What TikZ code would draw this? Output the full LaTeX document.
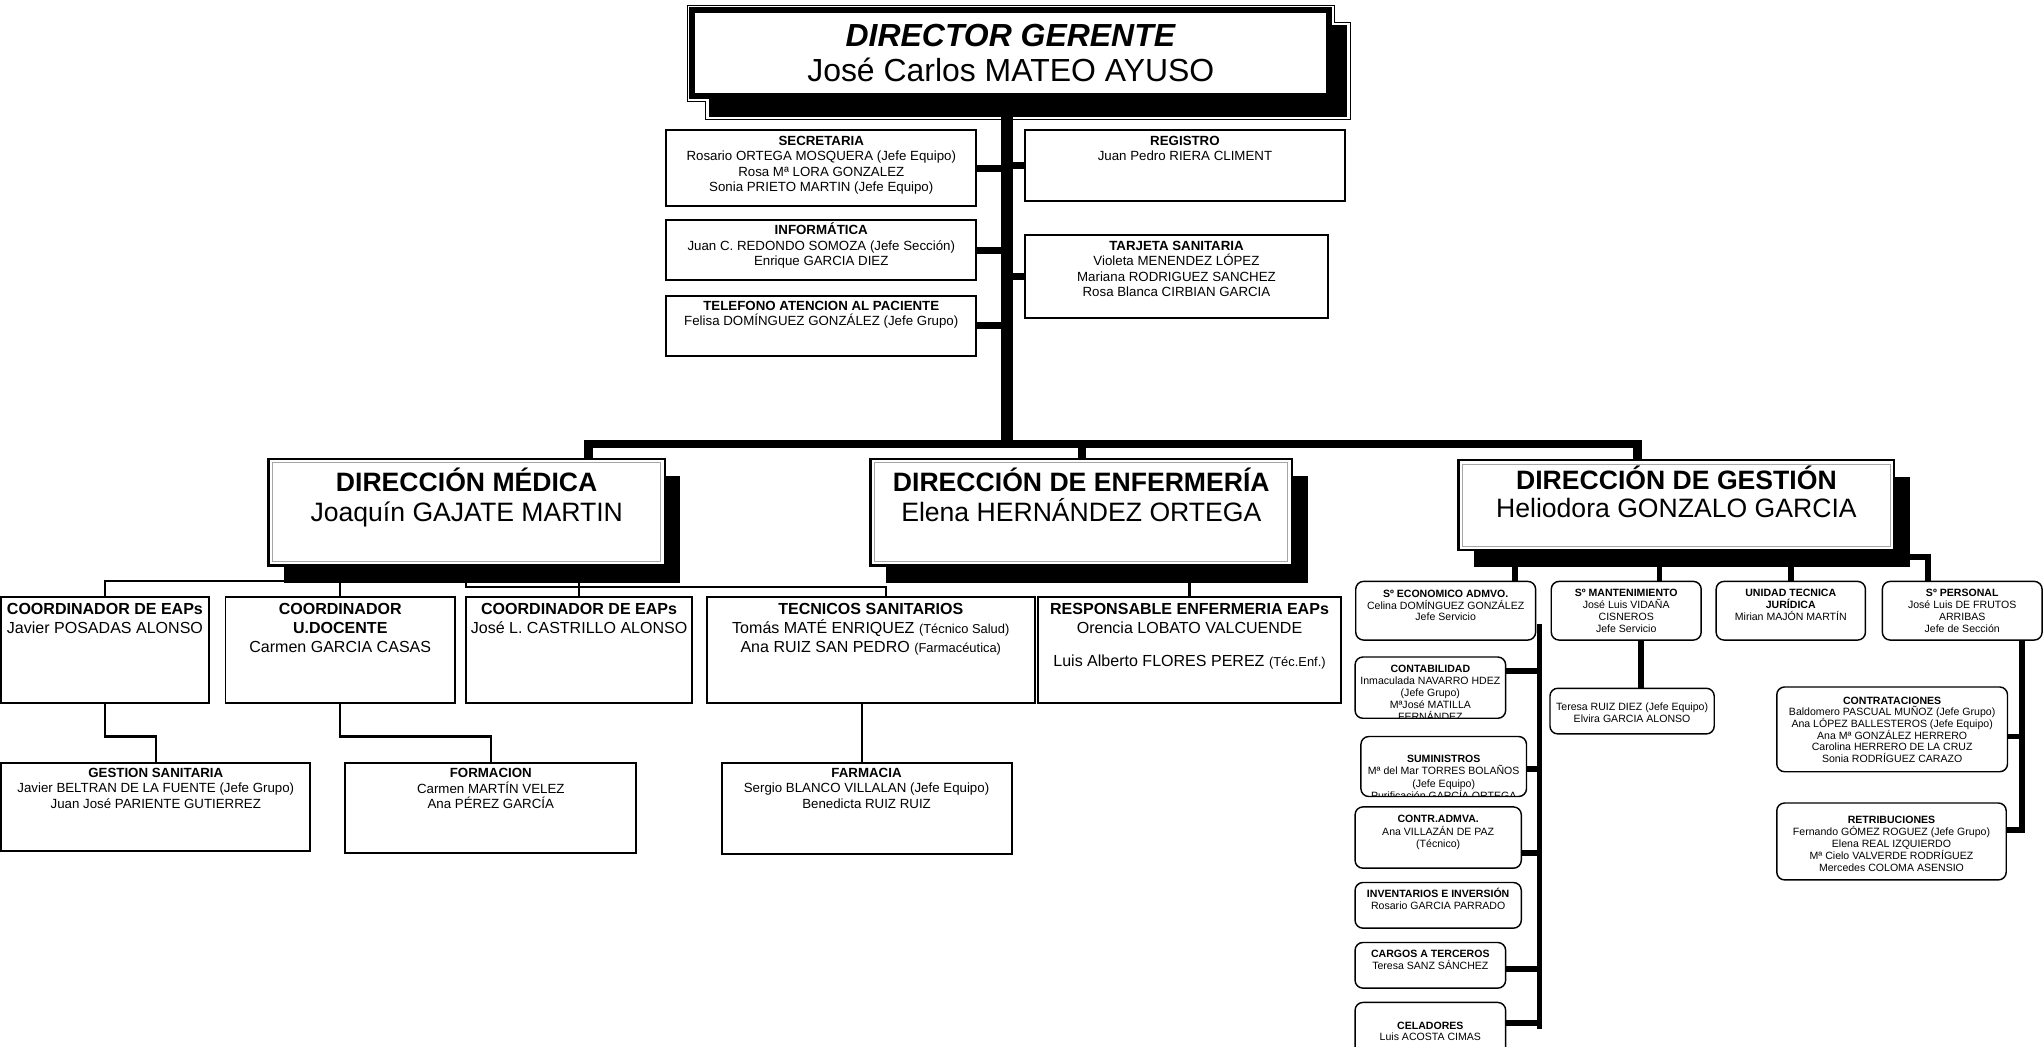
\documentclass[tikz,border=0pt]{standalone}
\usepackage{fontspec}
\setmainfont{Liberation Sans}
\usetikzlibrary{fit}
\lineskiplimit=-100pt
\tikzset{
  sbox/.style={draw, line width=1.5pt, fill=white, inner sep=0pt, outer sep=0pt},
  rbox/.style={draw, line width=1.1pt, fill=white, rounded corners=6pt, inner sep=0pt, outer sep=0pt},
  dbox/.style={draw, line width=2pt, fill=white, inner sep=0pt, outer sep=0pt},
  gbox/.style={draw, line width=4.5pt, fill=white, inner sep=0pt, outer sep=0pt},
  innerline/.style={draw=gray!70, line width=0.8pt},
  shd/.style={fill=black},
  thinl/.style={line width=1.6pt},
  lnk/.style={line width=5.5pt},
  glnk/.style={line width=4.5pt},
  barlink/.style={line width=6.5pt},
  trunk/.style={line width=9pt},
}
\newcommand\tx[6]{% name, x, yc, size, pitch, content
  \pgfmathsetmacro\tyy{#3-0.642*#4}%
  \node[anchor=north, inner sep=0pt, align=center, font={\fontsize{#4}{#5}\selectfont}] (#1) at (#2,\tyy) {\rule{0pt}{#4pt}#6};}
\newcommand\bx[6]{\node[#1, fit={(#3,#4)(#5,#6)}] (#2) {};}
\newcommand\dirbox[5]{%
  \fill[shd] (#2+12,#3+13) rectangle (#4+12,#5+13);
  \node[dbox, fit={(#2,#3)(#4,#5)}] (#1) {};
  \draw[innerline] ([shift={(3pt,-3pt)}]#1.north west) rectangle ([shift={(-3pt,3pt)}]#1.south east);}
\newcommand\sm[1]{{\fontsize{9.9}{14.7}\selectfont #1}}
\begin{document}
\begin{tikzpicture}[x=1pt,y=-1pt]
\useasboundingbox (0,0) rectangle (1568,803);

% ---------- Director gerente ----------
\fill[shd] (544,19) rectangle (1033,89.5);
\draw[line width=0.7pt] (527.5,4) -- (1023.5,4) -- (1023.5,17) -- (1036,17) -- (1036,92) -- (541,92) -- (541,77.5) -- (527.5,77.5) -- cycle;
\bx{gbox}{dg}{531}{8}{1019.7}{73.6}

% ---------- direcciones ----------
\dirbox{med}{206}{352}{510}{434}
\dirbox{enf}{668}{352}{991}{434}
\dirbox{ges}{1119}{353}{1453}{422}

% ---------- side boxes ----------
\bx{sbox}{sec}{511}{100}{749}{158}
\bx{sbox}{reg}{786}{100}{1032}{154}
\bx{sbox}{inf}{511}{169}{749}{215}
\bx{sbox}{tar}{786}{180}{1019}{244}
\bx{sbox}{tel}{511}{227}{749}{273}

% ---------- coordinators ----------
\bx{sbox}{ca}{1}{458}{160}{539}
\bx{sbox}{cb}{173}{458}{349}{539}
\bx{sbox}{cc}{357.5}{458}{531}{539}
\bx{sbox}{tec}{542}{458}{794}{539}
\bx{sbox}{res}{796}{458}{1029}{539}
\bx{sbox}{gsa}{1}{585}{238}{653}
\bx{sbox}{frm}{265}{585}{488}{654}
\bx{sbox}{far}{553.5}{585}{776}{655}

% ---------- gestion ----------
\bx{rbox}{eco}{1040}{446}{1178}{491}
\bx{rbox}{man}{1190}{446}{1305}{491}
\bx{rbox}{uni}{1316.5}{446}{1431}{491}
\bx{rbox}{per}{1444}{446}{1566.5}{491}
\bx{rbox}{ter}{1189}{528}{1315}{563}
\bx{rbox}{ctt}{1363}{527}{1540}{592}
\bx{rbox}{ret}{1363}{616}{1539}{675}
\bx{rbox}{cnt}{1039.5}{504}{1155}{551}
\bx{rbox}{sum}{1044}{565}{1171}{611}
\bx{rbox}{cad}{1039.5}{619}{1167}{666}
\bx{rbox}{inv}{1039.5}{677}{1167}{712}
\bx{rbox}{car}{1039.5}{723}{1155}{758}
\bx{rbox}{cel}{1039.5}{769}{1155}{812}

% ---------- connectors ----------
\coordinate (tb) at (772.5,344);
\draw[trunk] (dg.south -| tb) -- (tb);
\draw[lnk] (sec.east) -- (sec.east -| tb);
\draw[lnk] (reg.west) -- (reg.west -| tb);
\draw[lnk] (inf.east) -- (inf.east -| tb);
\draw[lnk] (tar.west) -- (tar.west -| tb);
\draw[lnk] (tel.east) -- (tel.east -| tb);

\coordinate (bl) at (451.5,340.5);
\coordinate (br) at (1256,340.5);
\coordinate (be) at (830,340.5);
\draw[barlink] (med.north -| bl) -- (bl) -- (br) -- (ges.north -| br);
\draw[barlink] (be) -- (enf.north -| be);

\draw[thinl] (ca.north) |- (225,446);
\draw[thinl] (cb.north) -- (cb.north |- 0,446);
\draw[thinl] (cc.north) -- (cc.north |- 0,446);
\draw[thinl] (357.5,446) |- (679.5,450.5) -- (tec.north -| 679.5,0);
\draw[thinl] (res.north) -- (res.north |- 0,446);
\draw[thinl] (ca.south) -- (ca.south |- 0,565) -| (gsa.north);
\draw[thinl] (cb.south) -- (cb.south |- 0,565) -| (frm.north);
\draw[thinl] (tec.south -| 661,0) -- (far.north -| 661,0);

\draw[glnk] (eco.north -| 1162,0) -- (1162,434);
\draw[glnk] (man.north -| 1273,0) -- (1273,434);
\draw[glnk] (uni.north -| 1374,0) -- (1374,434);
\draw[glnk] (1462,427) -| (per.north -| 1479,0);
\draw[glnk] (man.south -| 1259,0) -- (ter.north -| 1259,0);
\coordinate (ea) at (1181,479);
\coordinate (eb) at (1181,789);
\draw[glnk] (ea) -- (eb);
\draw[glnk] (cnt.east |- 0,514.5) -- (ea |- 0,514.5);
\draw[glnk] (sum.east |- 0,590) -- (ea |- 0,590);
\draw[glnk] (cad.east |- 0,654.6) -- (ea |- 0,654.6);
\draw[glnk] (car.east |- 0,743) -- (ea |- 0,743);
\draw[glnk] (cel.east |- 0,785) -- (ea |- 0,785);
\coordinate (pa) at (1551,639);
\draw[glnk] (per.south -| pa) -- (pa);
\draw[glnk] (ctt.east |- 0,565) -- (pa |- 0,565);
\draw[glnk] (ret.east |- 0,637) -- (pa |- 0,637);

% ---------- texts ----------
\tx{dgt}{775.4}{26.8}{24.5}{26.9}{\textbf{\textit{DIRECTOR GERENTE}}\\José Carlos MATEO AYUSO}
\tx{medt}{358}{369.5}{20.4}{23}{\textbf{DIRECCIÓN MÉDICA}\\Joaquín GAJATE MARTIN}
\tx{enft}{829.5}{369.5}{20.4}{23}{\textbf{DIRECCIÓN DE ENFERMERÍA}\\Elena HERNÁNDEZ ORTEGA}
\tx{gest}{1286}{368}{20.4}{21.5}{\textbf{DIRECCIÓN DE GESTIÓN}\\Heliodora GONZALO GARCIA}

\tx{sect}{630}{107.4}{10.2}{11.9}{\textbf{SECRETARIA}\\Rosario ORTEGA MOSQUERA (Jefe Equipo)\\Rosa Mª LORA GONZALEZ\\Sonia PRIETO MARTIN (Jefe Equipo)}
\tx{regt}{909}{107.4}{10.2}{11.9}{\textbf{REGISTRO}\\Juan Pedro RIERA CLIMENT}
\tx{inft}{630}{176.4}{10.2}{11.9}{\textbf{INFORMÁTICA}\\Juan C. REDONDO SOMOZA (Jefe Sección)\\Enrique GARCIA DIEZ}
\tx{tart}{902.5}{188}{10.2}{11.9}{\textbf{TARJETA SANITARIA}\\Violeta MENENDEZ LÓPEZ\\Mariana RODRIGUEZ SANCHEZ\\Rosa Blanca CIRBIAN GARCIA}
\tx{telt}{630}{234}{10.2}{11.9}{\textbf{TELEFONO ATENCION AL PACIENTE}\\Felisa DOMÍNGUEZ GONZÁLEZ (Jefe Grupo)}

\tx{cat}{80.5}{466.7}{12.3}{14.7}{\textbf{COORDINADOR DE EAPs}\\Javier POSADAS ALONSO}
\tx{cbt}{261}{466.7}{12.3}{14.7}{\textbf{COORDINADOR}\\\textbf{U.DOCENTE}\\Carmen GARCIA CASAS}
\tx{cct}{444.25}{466.7}{12.3}{14.7}{\textbf{COORDINADOR DE EAPs}\\José L. CASTRILLO ALONSO}
\tx{tect}{668}{466.7}{12.3}{14.7}{\textbf{TECNICOS SANITARIOS}\\Tomás MATÉ ENRIQUEZ \sm{(Técnico Salud)}\\Ana RUIZ SAN PEDRO \sm{(Farmacéutica)}}
\tx{rest}{912.5}{466.7}{12.3}{14.7}{\textbf{RESPONSABLE ENFERMERIA EAPs}\\Orencia LOBATO VALCUENDE\\[10.9pt]Luis Alberto FLORES PEREZ \sm{(Téc.Enf.)}}
\tx{gsat}{119.5}{592.5}{10.2}{11.9}{\textbf{GESTION SANITARIA}\\Javier BELTRAN DE LA FUENTE (Jefe Grupo)\\Juan José PARIENTE GUTIERREZ}
\tx{frmt}{376.5}{592.8}{10.2}{11.9}{\textbf{FORMACION}\\Carmen MARTÍN VELEZ\\Ana PÉREZ GARCÍA}
\tx{fart}{664.75}{592.5}{10.2}{11.9}{\textbf{FARMACIA}\\Sergio BLANCO VILLALAN (Jefe Equipo)\\Benedicta RUIZ RUIZ}

\tx{ecot}{1109}{455}{8.1}{9.1}{\textbf{Sº ECONOMICO ADMVO.}\\Celina DOMÍNGUEZ GONZÁLEZ\\Jefe Servicio}
\tx{mant}{1247.5}{454.5}{8.1}{9.3}{\textbf{Sº MANTENIMIENTO}\\José Luis VIDAÑA\\CISNEROS\\Jefe Servicio}
\tx{unit}{1373.75}{454.5}{8.1}{9.3}{\textbf{UNIDAD TECNICA}\\\textbf{JURÍDICA}\\Mirian MAJÓN MARTÍN}
\tx{pert}{1505.25}{454.5}{8.1}{9.3}{\textbf{Sº PERSONAL}\\José Luis DE FRUTOS\\ARRIBAS\\Jefe de Sección}
\tx{tert}{1252}{542}{8.1}{9}{Teresa RUIZ DIEZ (Jefe Equipo)\\Elvira GARCIA ALONSO}
\tx{cttt}{1451.5}{537}{8.1}{8.95}{\textbf{CONTRATACIONES}\\Baldomero PASCUAL MUÑOZ (Jefe Grupo)\\Ana LÓPEZ BALLESTEROS (Jefe Equipo)\\Ana Mª GONZÁLEZ HERRERO\\Carolina HERRERO DE LA CRUZ\\Sonia RODRÍGUEZ CARAZO}
\tx{rett}{1451}{629}{8.1}{9.1}{\textbf{RETRIBUCIONES}\\Fernando GÓMEZ ROGUEZ (Jefe Grupo)\\Elena REAL IZQUIERDO\\Mª Cielo VALVERDE RODRÍGUEZ\\Mercedes COLOMA ASENSIO}
\begin{scope}
\clip ([shift={(0.6pt,-0.6pt)}]cnt.north west) rectangle ([shift={(-0.6pt,0.6pt)}]cnt.south east);
\tx{cntt}{1097.25}{512.7}{8.1}{9.2}{\textbf{CONTABILIDAD}\\Inmaculada NAVARRO HDEZ\\(Jefe Grupo)\\MªJosé MATILLA\\FERNÁNDEZ}
\end{scope}
\begin{scope}
\clip ([shift={(0.6pt,-0.6pt)}]sum.north west) rectangle ([shift={(-0.6pt,0.6pt)}]sum.south east);
\tx{sumt}{1107.5}{581.7}{8.1}{9.6}{\textbf{SUMINISTROS}\\Mª del Mar TORRES BOLAÑOS\\(Jefe Equipo)\\Purificación GARCÍA ORTEGA}
\end{scope}
\tx{cadt}{1103.25}{627.8}{8.1}{9.8}{\textbf{CONTR.ADMVA.}\\Ana VILLAZÁN DE PAZ\\(Técnico)}
\tx{invt}{1103.25}{685.3}{8.1}{9}{\textbf{INVENTARIOS E INVERSIÓN}\\Rosario GARCIA PARRADO}
\tx{cart}{1097.25}{731.3}{8.1}{9}{\textbf{CARGOS A TERCEROS}\\Teresa SANZ SÁNCHEZ}
\tx{celt}{1097.25}{786.3}{8.1}{9}{\textbf{CELADORES}\\Luis ACOSTA CIMAS}
\end{tikzpicture}
\end{document}
